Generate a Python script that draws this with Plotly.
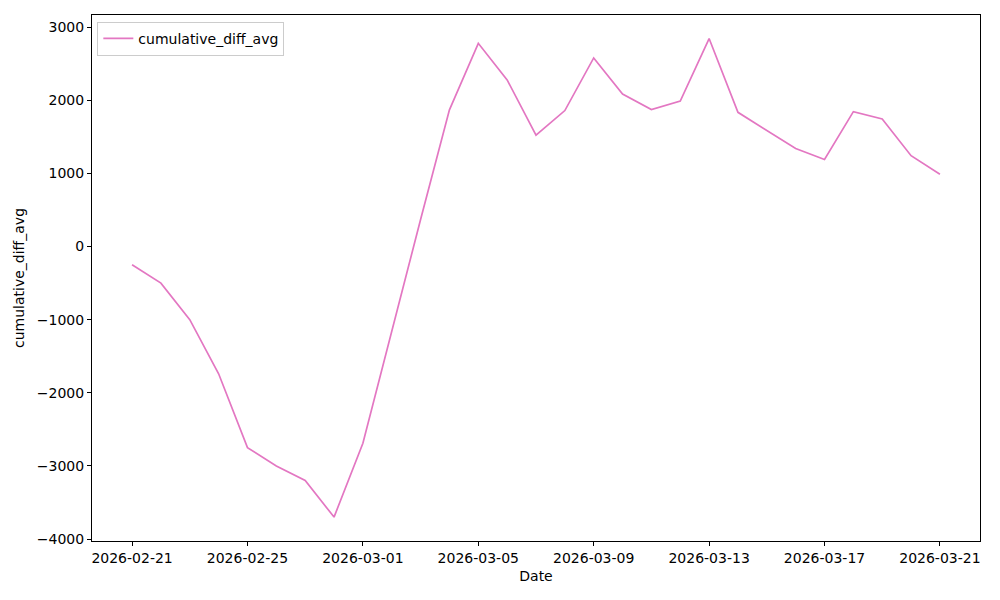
import plotly.graph_objects as go

dates = ["2026-02-21", "2026-02-22", "2026-02-23", "2026-02-24", "2026-02-25",
         "2026-02-26", "2026-02-27", "2026-02-28", "2026-03-01", "2026-03-02",
         "2026-03-03", "2026-03-04", "2026-03-05", "2026-03-06", "2026-03-07",
         "2026-03-08", "2026-03-09", "2026-03-10", "2026-03-11", "2026-03-12",
         "2026-03-13", "2026-03-14", "2026-03-15", "2026-03-16", "2026-03-17",
         "2026-03-18", "2026-03-19", "2026-03-20", "2026-03-21"]
cumulative_diff_avg = [-250, -500, -1000, -1740, -2750,
                       -3000, -3200, -3700, -2690, -1150,
                       370, 1870, 2780, 2280, 1525,
                       1860, 2580, 2085, 1875, 1990,
                       2845, 1836, 1590, 1340, 1190,
                       1845, 1745, 1243, 990]

x_tickvals = ["2026-02-21", "2026-02-25", "2026-03-01", "2026-03-05",
              "2026-03-09", "2026-03-13", "2026-03-17", "2026-03-21"]
y_tickvals = [-4000, -3000, -2000, -1000, 0, 1000, 2000, 3000]

fig = go.Figure()
fig.add_trace(go.Scatter(
    x=dates, y=cumulative_diff_avg, mode="lines", name="cumulative_diff_avg",
    line=dict(color="#e377c2", width=1.7), showlegend=True,
))

font = dict(family="DejaVu Sans", size=14, color="black")
axis_common = dict(
    showline=True, linecolor="black", linewidth=1, mirror=True,
    ticks="outside", ticklen=4, tickcolor="black", showgrid=False,
    zeroline=False, tickfont=font,
)
fig.update_layout(
    width=984, height=584,
    margin=dict(l=84, r=12, t=7, b=51),
    plot_bgcolor="white", paper_bgcolor="white",
    font=font,
    showlegend=True,
    legend=dict(x=0.006, y=0.987, xanchor="left", yanchor="top",
                bordercolor="#cccccc", borderwidth=1, bgcolor="rgba(255,255,255,0.8)",
                font=dict(family="DejaVu Sans", size=14)),
    xaxis=dict(axis_common, range=["2026-02-19 14:40", "2026-03-22 09:20"],
               tickvals=x_tickvals, tickformat="%Y-%m-%d",
               title=dict(text="Date", font=font, standoff=6)),
    yaxis=dict(axis_common, range=[-4027, 3167], tickvals=y_tickvals,
               title=dict(text="cumulative_diff_avg", font=font, standoff=8)),
)
fig.write_html("out.html")
